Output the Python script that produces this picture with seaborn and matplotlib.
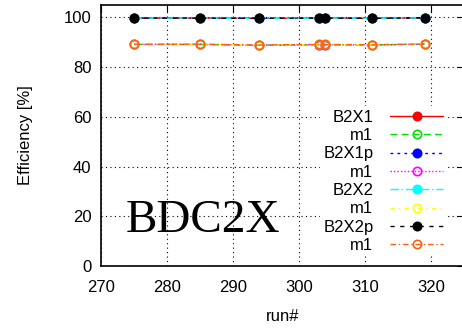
import matplotlib
matplotlib.use("Agg")
import seaborn as sns
from matplotlib import pyplot as plt

# run numbers and efficiencies
runs = [275, 285, 294, 303, 304, 311, 319]
b2x1 = [99.7, 99.7, 99.6, 99.7, 99.7, 99.6, 99.8]
b2x1_m1 = [89.1, 89.1, 88.8, 89.0, 89.0, 88.9, 89.2]
b2x1p = [99.7, 99.7, 99.6, 99.7, 99.7, 99.6, 99.8]
b2x1p_m1 = [89.1, 89.1, 88.8, 89.0, 89.0, 88.9, 89.2]
b2x2 = [99.7, 99.7, 99.6, 99.7, 99.7, 99.6, 99.8]
b2x2_m1 = [89.2, 89.2, 88.9, 89.1, 89.1, 89.0, 89.3]
b2x2p = [99.7, 99.7, 99.6, 99.7, 99.7, 99.6, 99.8]
b2x2p_m1 = [89.2, 89.2, 88.9, 89.1, 89.1, 89.0, 89.3]

series = [
    ("B2X1", b2x1, "#ff0000", "-", True),
    ("m1", b2x1_m1, "#00e000", (0, (5, 3)), False),
    ("B2X1p", b2x1p, "#0000ff", (0, (2, 3)), True),
    ("m1", b2x1p_m1, "#ff00ff", (0, (1, 1.5)), False),
    ("B2X2", b2x2, "#00ffff", (0, (6, 2, 1, 2)), True),
    ("m1", b2x2_m1, "#ffff00", (0, (3, 3, 1, 3)), False),
    ("B2X2p", b2x2p, "#000000", (0, (3, 4)), True),
    ("m1", b2x2p_m1, "#ff6010", (0, (4, 2, 1, 2)), False),
]

sns.set_style("white")
plt.rcParams["font.family"] = ["Liberation Sans", "DejaVu Sans"]
plt.rcParams["text.color"] = "black"
plt.rcParams["axes.labelcolor"] = "black"
plt.rcParams["xtick.color"] = "black"
plt.rcParams["ytick.color"] = "black"

fig = plt.figure(figsize=(4.62, 3.28), dpi=100)
ax = fig.add_axes([0.2186, 0.189, 0.786, 0.796])

for label, vals, color, ls, filled in series:
    sns.lineplot(x=runs, y=vals, ax=ax, color=color, linestyle=ls, lw=1,
                 marker="o", markersize=6, mew=1.2, mec=color,
                 mfc=color if filled else "none", label=label)

ax.set_xlim(270, 325)
ax.set_ylim(0, 105)
ax.set_xticks(range(270, 321, 10))
ax.set_yticks(range(0, 101, 20))
ax.grid(True, color="black", linestyle=(0, (1, 3)), lw=0.8)
ax.tick_params(direction="in", top=True, right=True, labelsize=12, length=5)
ax.tick_params(axis="x", pad=10)
ax.tick_params(axis="y", pad=7)
for s in ax.spines.values():
    s.set_color("black")
    s.set_linewidth(1.2)

ax.set_xlabel("run#", fontsize=12, labelpad=10)
ax.set_ylabel("Efficiency [%]", fontsize=12, labelpad=22)

fig.text(0.44, 0.326, "BDC2X", ha="center", va="center", fontsize=34,
         family="Liberation Serif")

leg = ax.legend(loc="lower right", bbox_to_anchor=(0.975, 0.005), markerfirst=False,
                frameon=True, fontsize=12, handlelength=3.2,
                labelspacing=0.2, borderpad=0.2, handletextpad=1.0)
leg.get_frame().set_facecolor("white")
leg.get_frame().set_edgecolor("none")
leg.get_frame().set_alpha(1)

fig.savefig("out.png", dpi=100)
